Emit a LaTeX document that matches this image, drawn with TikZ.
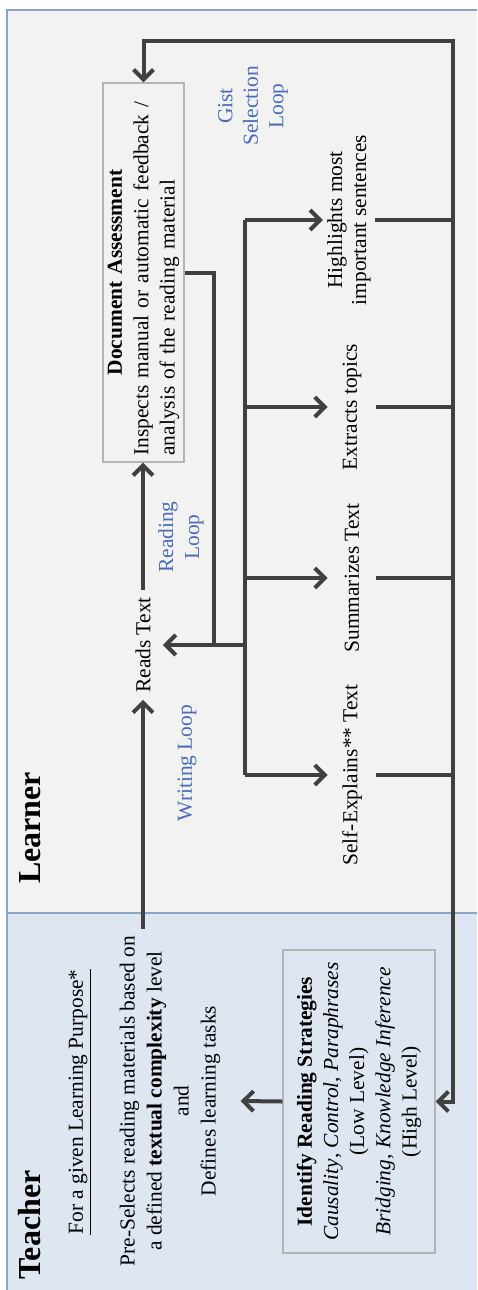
\documentclass[tikz,border=0pt]{standalone}
\usepackage{fontspec}
\setmainfont{Liberation Serif}
\usetikzlibrary{arrows.meta}
\definecolor{lrn}{HTML}{F2F2F0}
\definecolor{tch}{HTML}{DEE7F1}
\definecolor{frm}{HTML}{8AA5C6}
\definecolor{ln}{HTML}{404040}
\definecolor{blu}{HTML}{4A6BB8}
\definecolor{boxc}{HTML}{B4B4B4}
\begin{document}
\begin{tikzpicture}[x=0.5pt,y=-0.5pt,
  every node/.style={font=\fontsize{10.7}{13.2}\selectfont, text=black},
  >={Straight Barb[length=5pt,width=10pt]},
  conn/.style={draw=ln, line width=2pt},
  vt/.style={rotate=90},
  title/.style={rotate=90, font=\fontsize{16}{19}\selectfont\bfseries},
  loopl/.style={rotate=90, text=blu, align=center},
  task/.style={rotate=90, align=center, minimum height=24pt, inner ysep=2pt,
    font=\fontsize{10.7}{12}\selectfont},
  box/.style={rotate=90, draw=boxc, line width=0.6pt}]
\useasboundingbox (0,0) rectangle (477,1290);
% frame
\fill[lrn] (7,10) rectangle (477,913);
\fill[tch] (7,913) rectangle (477,1290);
\draw[frm, line width=1pt] (477,10) -- (7,10) -- (7,1290);
\draw[frm, line width=1pt] (7,913) -- (477,913);
% titles
\node[title] (learner) at (30,828) {Learner};
\node[title] (teacher) at (30,1225) {Teacher};
% learner nodes
\node[box, minimum width=189.5pt, minimum height=40.5pt, inner xsep=3pt, inner ysep=2pt,
  text width=183pt, align=left] (DA) at (143.5,272.5)
  {\makebox[\linewidth]{\textbf{Document Assessment}}\\Inspects manual or automatic feedback /\\analysis of the reading material};
\node[vt, inner ysep=6pt] (Reads) at (143,645) {Reads Text};
\node[loopl, font=\fontsize{10.7}{12.75}\selectfont] (gist) at (253,106) {Gist\\Selection\\Loop};
\node[loopl, font=\fontsize{10.7}{13}\selectfont] (readloop) at (181,537) {Reading\\Loop};
\node[loopl] (writeloop) at (187,763) {Writing Loop};
\node[task] (t1) at (349,220) {Highlights most\\important sentences};
\node[task] (t2) at (352,407) {Extracts topics};
\node[task] (t3) at (352,578) {Summarizes Text};
\node[task] (t4) at (352,775) {Self-Explains** Text};
% teacher nodes
\node[vt] (purpose) at (80,1102) {\underline{For a given Learning Purpose*}};
\node[vt, align=center, inner ysep=10pt, font=\fontsize{10.7}{13.5}\selectfont] (pre) at (170,1101)
  {Pre-Selects reading materials based on\\a defined \textbf{textual complexity} level\\and\\Defines learning tasks};
\node[box, minimum width=151.5pt, minimum height=76pt, align=center,
  font=\fontsize{10.7}{13.1}\selectfont] (IRS) at (359,1101.5)
  {\textbf{Identify Reading Strategies}\\\textit{Causality}, \textit{Control}, \textit{Paraphrases}\\(Low Level)\\\textit{Bridging}, \textit{Knowledge Inference}\\(High Level)};
% coordinates
\coordinate (c1) at (453,41);
\coordinate (bus) at (245,645);
\coordinate (j) at (214,645);
% connectors
\draw[conn,<->] (DA.east) |- (c1) |- (IRS.south);
\draw[conn,->] (Reads.east) -- (Reads.east |- DA.west);
\draw[conn,->] (Reads |- pre.east) -- (Reads.west);
\draw[conn] (DA.south) -| (j);
\draw[conn,->] (bus) -- (Reads.south);
\draw[conn] (bus |- t1) -- (bus |- t4);
\draw[conn,->] (bus |- t1) -- (t1.north);
\draw[conn,->] (bus |- t2) -- (t2.north);
\draw[conn,->] (bus |- t3) -- (t3.north);
\draw[conn,->] (bus |- t4) -- (t4.north);
\draw[conn] (t1.south) -- (t1.south -| c1);
\draw[conn] (t2.south) -- (t2.south -| c1);
\draw[conn] (t3.south) -- (t3.south -| c1);
\draw[conn] (t4.south) -- (t4.south -| c1);
\draw[conn,->] (IRS.north) -- (pre.south);
\end{tikzpicture}
\end{document}
